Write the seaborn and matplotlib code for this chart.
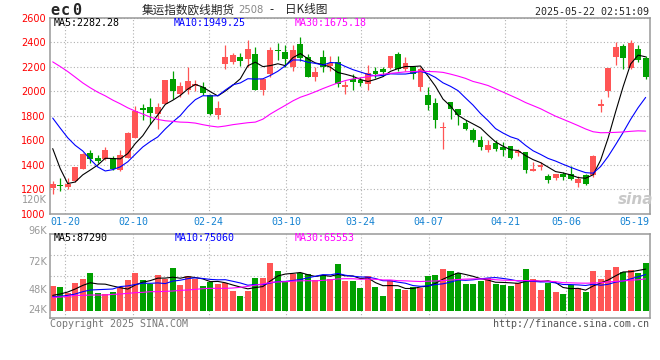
"""集运指数欧线期货2508 日K线图 (新浪财经风格) 复刻."""

import matplotlib
matplotlib.use("Agg")
import matplotlib.pyplot as plt
import numpy as np
import pandas as pd
import seaborn as sns

# 日K数据 2025-01-16 ~ 2025-05-21, 共80根
opens = [1210, 1237, 1218, 1264, 1367, 1495, 1457, 1446, 1457, 1354,
         1457, 1620, 1863, 1871, 1816, 1898, 2099, 1980, 2007, 2040,
         2034, 1966, 1808, 2224, 2238, 2284, 2265, 2306, 2012, 2143,
         2339, 2322, 2197, 2388, 2284, 2121, 2284, 2211, 2238, 2039,
         2102, 2094, 2056, 2165, 2184, 2192, 2306, 2184, 2197, 2034,
         1971, 1906, 1697, 1912, 1857, 1743, 1686, 1604, 1523, 1577,
         1544, 1550, 1495, 1503, 1348, 1381, 1305, 1291, 1321, 1327,
         1250, 1313, 1313, 1882, 2001, 2284, 2374, 2192, 2347, 2273]
highs = [1265, 1294, 1294, 1378, 1495, 1520, 1476, 1544, 1468, 1517,
         1667, 1882, 1893, 1947, 1903, 2094, 2165, 2075, 2197, 2094,
         2075, 1980, 1920, 2382, 2314, 2312, 2420, 2360, 2102, 2360,
         2393, 2382, 2382, 2442, 2306, 2197, 2339, 2292, 2292, 2083,
         2143, 2116, 2219, 2197, 2203, 2292, 2320, 2284, 2197, 2197,
         2034, 1947, 1748, 1912, 1857, 1767, 1702, 1631, 1604, 1604,
         1585, 1555, 1531, 1503, 1422, 1422, 1327, 1327, 1340, 1386,
         1305, 1327, 1476, 1939, 2192, 2401, 2388, 2420, 2382, 2292]
lows = [1160, 1185, 1199, 1258, 1365, 1414, 1416, 1435, 1359, 1348,
        1457, 1620, 1767, 1735, 1694, 1898, 1936, 1952, 1980, 2001,
        1966, 1803, 1776, 2184, 2224, 2205, 2197, 2012, 1966, 2116,
        2260, 2197, 2165, 2252, 2116, 2088, 2156, 2165, 2034, 1974,
        2007, 2040, 2012, 2110, 2129, 2184, 2170, 2170, 2102, 2001,
        1849, 1702, 1531, 1776, 1721, 1680, 1585, 1517, 1503, 1512,
        1468, 1449, 1468, 1332, 1348, 1359, 1250, 1272, 1278, 1272,
        1218, 1231, 1299, 1830, 1952, 2219, 2184, 2184, 2238, 2102]
closes = [1245, 1222, 1245, 1378, 1490, 1443, 1427, 1522, 1367, 1476,
          1661, 1835, 1844, 1822, 1871, 2094, 2004, 2040, 2083, 2061,
          1985, 1816, 1865, 2284, 2298, 2252, 2347, 2012, 2102, 2339,
          2328, 2268, 2339, 2273, 2121, 2159, 2203, 2230, 2056, 2050,
          2075, 2072, 2148, 2143, 2162, 2292, 2184, 2233, 2143, 2184,
          1884, 1762, 1708, 1857, 1808, 1694, 1599, 1544, 1563, 1531,
          1517, 1454, 1512, 1354, 1367, 1395, 1272, 1327, 1299, 1286,
          1286, 1245, 1468, 1898, 2192, 2360, 2273, 2396, 2260, 2121]
volumes = [51700, 49600, 37700, 58600, 67000, 79600, 37000, 35600, 39100, 49600,
           64900, 79600, 64900, 55800, 75400, 65600, 89300, 53800, 72600, 65600,
           51700, 60700, 55800, 58600, 41900, 30700, 41900, 69100, 69100, 100500,
           83100, 62100, 76100, 78200, 76800, 64900, 74700, 65600, 97700, 62800,
           62800, 46800, 72600, 48900, 30700, 64200, 45400, 43300, 48900, 46800,
           72600, 74700, 87300, 83100, 78200, 55800, 55800, 62800, 67700, 55800,
           53800, 51700, 57200, 87300, 66300, 43300, 58600, 39800, 34900, 53800,
           46800, 39800, 83100, 66300, 85200, 90700, 80300, 85200, 79600, 99800]

# 均线起始段 (依赖图外更早的数据, 直接从图上读取)
ma5_head = [1531, 1368, 1245, 1258]
ma10_head = [1781, 1699, 1620, 1558, 1512, 1444, 1381, 1348, 1359]
ma30_head = [2241, 2203, 2162, 2116, 2069, 2029, 1993, 1963, 1928, 1898,
             1865, 1838, 1814, 1789, 1770, 1759, 1754, 1748, 1746, 1740,
             1727, 1716, 1708, 1716, 1727, 1735, 1743, 1748, 1772]
vol_ma5_head = [32100, 34900, 39100, 45400]
vol_ma10_head = [29300, 30000, 32100, 34900, 39800, 43300, 44000, 44700, 45400]
vol_ma30_head = [27900, 28600, 30000, 32100, 32100, 32800, 32800, 32800, 34200, 34900,
                 36300, 37700, 38400, 39800, 39800, 40500, 41200, 42600, 43300, 44700,
                 46100, 46800, 46800, 46800, 47500, 48900, 51000, 53500, 56000]

date_labels = ["01-20", "02-10", "02-24", "03-10", "03-24", "04-07", "04-21", "05-06", "05-19"]
price_ticks = [1000, 1200, 1400, 1600, 1800, 2000, 2200, 2400, 2600]
vol_labels = ["96K", "72K", "48K", "24K"]
price_ma_texts = ["MA5:2282.28", "MA10:1949.25", "MA30:1675.18"]
vol_ma_texts = ["MA5:87290", "MA10:75060", "MA30:65553"]

RED = "#ff5555"
GREEN = "#00a000"
MA_COLORS = ["black", "#0000ff", "#ff00ff"]
GRID = "#b0b0b0"
FRAME = "#999999"
W, H = 660, 360


def moving_average(values, window, head):
    ma = pd.Series(values, dtype=float).rolling(window).mean()
    ma.iloc[: len(head)] = head
    return ma


def box(x0, y0, x1, y1):
    """像素框 -> figure 坐标."""
    return [x0 / W, 1 - y1 / H, (x1 - x0) / W, (y1 - y0) / H]


def label(x, y, s, **kw):
    kw.setdefault("va", "center")
    return fig.text(x / W, 1 - y / H, s, **kw)


df = pd.DataFrame({"open": opens, "high": highs, "low": lows,
                   "close": closes, "volume": volumes})
df["idx"] = np.arange(len(df))
df["dir"] = np.where(df["close"] >= df["open"], "up", "down")
colors = np.where(df["dir"] == "up", RED, GREEN)

price_mas = [moving_average(closes, 5, ma5_head),
             moving_average(closes, 10, ma10_head),
             moving_average(closes, 30, ma30_head)]
vol_mas = [moving_average(volumes, 5, vol_ma5_head),
           moving_average(volumes, 10, vol_ma10_head),
           moving_average(volumes, 30, vol_ma30_head)]

sns.set_style("white")
plt.rcParams["font.family"] = ["DejaVu Sans", "Noto Sans CJK SC"]

fig = plt.figure(figsize=(6.6, 3.6), dpi=100)
ax = fig.add_axes(box(50, 18, 650, 213.5))
axv = fig.add_axes(box(50, 234.3, 650, 317.7))

tick_pos = [1.65, 10.7, 20.8, 31.1, 41.05, 50.1, 60.25, 68.4, 77.5]
xlim = (-0.36, 79.58)

# K线
ax.vlines(df["idx"], df["low"], df["high"], colors=colors, linewidth=0.9, zorder=2)
body_bottom = df[["open", "close"]].min(axis=1)
body_h = (df["close"] - df["open"]).abs().clip(lower=9)
ax.bar(df["idx"], body_h, bottom=body_bottom, width=0.78, color=colors,
       linewidth=0, zorder=3)
for s, c in zip(price_mas, MA_COLORS):
    sns.lineplot(x=df["idx"], y=s, color=c, linewidth=0.8, ax=ax, zorder=4)

ax.set_xlim(*xlim)
ax.set_ylim(1000, 2600)
ax.set_yticks(price_ticks)
ax.tick_params(axis="y", length=0, pad=3, labelcolor="#ff0000", labelsize=7)
ax.set_xticks(tick_pos)
ax.set_xticklabels(date_labels, family="DejaVu Sans Mono", color="#1482d2", fontsize=7.2)
ax.tick_params(axis="x", length=0, pad=2.5)
ax.set_xlabel("")
ax.set_ylabel("")

# 成交量
sns.barplot(data=df, x="idx", y="volume", hue="dir",
            palette={"up": RED, "down": GREEN}, native_scale=True, dodge=False,
            width=0.8, saturation=1, errorbar=None, legend=False, ax=axv,
            linewidth=0, zorder=2)
for s, c in zip(vol_mas, MA_COLORS):
    sns.lineplot(x=df["idx"], y=s, color=c, linewidth=0.8, ax=axv, zorder=4)

axv.set_xlim(*xlim)
axv.set_ylim(-14700, 160000)
axv.set_yticks([28900, 72650, 116300])
axv.set_yticklabels([])
axv.set_xticks(tick_pos)
axv.set_xticklabels([])
axv.tick_params(length=0)
axv.set_xlabel("")
axv.set_ylabel("")

for a in (ax, axv):
    a.grid(True, color=GRID, linestyle=(0, (1, 2)), linewidth=0.8)
    a.set_axisbelow(True)
    a.get_xgridlines()[-1].set_visible(False)
    for sp in a.spines.values():
        sp.set_visible(True)
        sp.set_color(FRAME)
        sp.set_linewidth(1.1)

for ypix, s in zip([230.7, 261.7, 290, 310], vol_labels):
    label(47, ypix, s, ha="right", color="#999999", fontsize=7)
label(47, 200, "120K", ha="right", color="#999999", fontsize=7)

# 标题与说明文字
for k, ch in enumerate("ec0"):
    label(54.5 + 11 * k, 10.5, ch, ha="center", family="DejaVu Sans Mono",
          fontweight="bold", fontsize=11)
cjk = ["Noto Sans CJK SC", "DejaVu Sans"]
label(142, 10, "集运指数欧线期货", ha="left", family=cjk, fontsize=8.4)
label(238, 10.3, "2508", ha="left", color="#888888", fontsize=7.2)
label(269, 10, "-", ha="left", family=cjk, fontsize=8.4)
label(285, 10, "日K线图", ha="left", family=cjk, fontsize=8.4)
label(649, 11.7, "2025-05-22 02:51:09", ha="right", family="DejaVu Sans Mono", fontsize=7.2)

mono = dict(family="DejaVu Sans Mono", fontsize=7.2, ha="left")
for xpix, s, c in zip([54, 174, 295], price_ma_texts, MA_COLORS):
    label(xpix, 23.3, s, color=c, **mono)
for xpix, s, c in zip([54, 175, 295], vol_ma_texts, MA_COLORS):
    label(xpix, 238.3, s, color=c, **mono)

label(50, 324, "Copyright 2025 SINA.COM", color="#777777", family="DejaVu Sans Mono", fontsize=7.2)
label(649, 324, "http://finance.sina.com.cn", ha="right", color="#555555",
      family="DejaVu Sans Mono", fontsize=7.2)
label(636, 199, "sina", ha="center", color="#c8c8c8", fontsize=11,
      fontweight="bold", fontstyle="italic")

fig.savefig("out.png", dpi=100)
